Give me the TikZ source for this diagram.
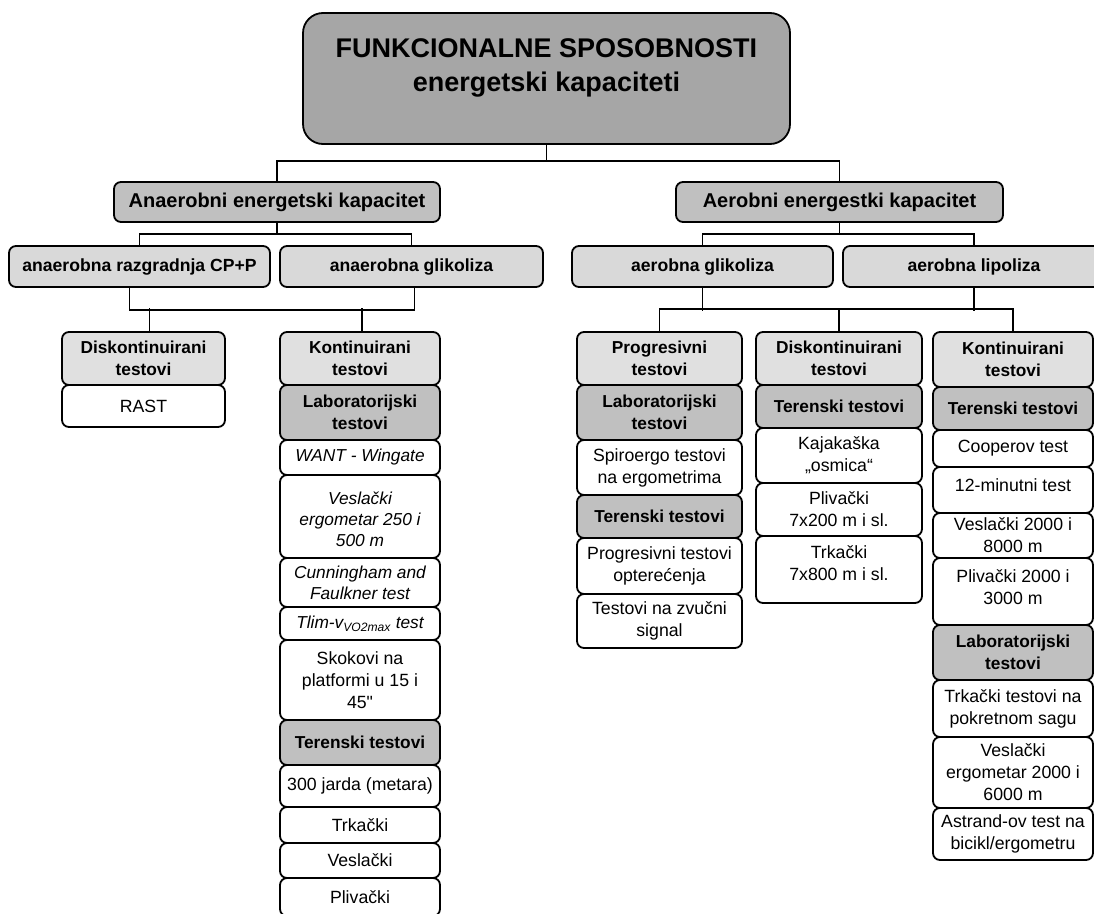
\documentclass[tikz,border=0pt]{standalone}
\usepackage{fontspec}
\setmainfont{Liberation Sans}
\definecolor{topgray}{RGB}{166,166,166}
\definecolor{midgray}{RGB}{192,192,192}
\definecolor{subgray}{RGB}{217,217,217}
\definecolor{headgray}{RGB}{224,224,224}

\begin{document}
\begin{tikzpicture}[x=1pt, y=-1pt,
		box/.style={draw, line width=1.8pt, rounded corners=7pt, inner sep=0pt, align=center},
		topbox/.style={box, fill=topgray, rounded corners=20pt, font=\bfseries\fontsize{27}{34}\selectfont},
		capbox/.style={box, fill=midgray, font=\bfseries\fontsize{20}{24}\selectfont},
		subbox/.style={box, fill=subgray, font=\bfseries\fontsize{17.6}{22}\selectfont},
		headbox/.style={box, fill=headgray, font=\bfseries\fontsize{17.3}{22}\selectfont},
		kindbox/.style={box, fill=midgray, font=\bfseries\fontsize{17.3}{22}\selectfont},
		testbox/.style={box, fill=white, font=\fontsize{17.7}{22}\selectfont},
		itbox/.style={box, fill=white, font=\itshape\fontsize{17.3}{21}\selectfont},
		link/.style={line width=1.7pt}]
		\useasboundingbox (0,0) rectangle (1094,913);

		\node[topbox, minimum width=487pt, minimum height=131pt] (top) at (546.5, 78.5) {FUNKCIONALNE SPOSOBNOSTI\\energetski kapaciteti\rule[-27pt]{0pt}{0pt}};

		\node[capbox, minimum width=326pt, minimum height=40pt] (anaer) at (277, 202) {Anaerobni energetski kapacitet};
		\node[capbox, minimum width=327pt, minimum height=40pt] (aer) at (839.5, 202) {Aerobni energestki kapacitet};

		\node[subbox, minimum width=261pt, minimum height=41pt] (raz) at (139.5, 266.5) {anaerobna razgradnja CP+P};
		\node[subbox, minimum width=263pt, minimum height=41pt] (anglik) at (411.5, 266.5) {anaerobna glikoliza};
		\node[subbox, minimum width=261pt, minimum height=41pt] (aglik) at (702.5, 266.5) {aerobna glikoliza};
		\node[subbox, minimum width=262pt, minimum height=41pt] (alip) at (974, 266.5) {aerobna lipoliza};

		% anaerobni: diskontinuirani
		\node[headbox, minimum width=163pt, minimum height=53pt] (dkA) at (143.5, 358.5) {Diskontinuirani\\testovi};
		\node[testbox, minimum width=163pt, minimum height=42pt] (rast) at (143.5, 406) {RAST};

		% anaerobni: kontinuirani
		\node[headbox, minimum width=160pt, minimum height=53pt] (kA) at (360, 358.5) {Kontinuirani\\testovi};
		\node[kindbox, minimum width=160pt, minimum height=55pt] (labA) at (360, 412.5) {Laboratorijski\\testovi};
		\node[itbox, minimum width=160pt, minimum height=35pt] (want) at (360, 457.5) {WANT - Wingate};
		\node[itbox, minimum width=160pt, minimum height=83pt] (vesA) at (360, 516.5) {\rule{0pt}{18pt}Veslački\\ergometar 250 i\\500 m};
		\node[itbox, minimum width=160pt, minimum height=49pt] (cunn) at (360, 582.5) {Cunningham and\\Faulkner test};
		\node[itbox, minimum width=160pt, minimum height=33pt] (tlim) at (360, 623.5) {Tlim-v\textsubscript{VO2max} test};
		\node[testbox, minimum width=160pt, minimum height=80pt] (skok) at (360, 680) {Skokovi na\\platformi u 15 i\\45\XeTeXglyph\XeTeXcharglyph34\relax};
		\node[kindbox, minimum width=160pt, minimum height=45pt] (terA) at (360, 742.5) {Terenski testovi};
		\node[testbox, minimum width=160pt, minimum height=42pt] (jard) at (360, 786) {300 jarda (metara)};
		\node[testbox, minimum width=160pt, minimum height=36pt] (trkA) at (360, 825) {Trkački};
		\node[testbox, minimum width=160pt, minimum height=35pt] (vesA2) at (360, 860.5) {Veslački};
		\node[testbox, minimum width=160pt, minimum height=38pt] (pliA) at (360, 897) {Plivački};

		% aerobni: progresivni
		\node[headbox, minimum width=165pt, minimum height=53pt] (prog) at (659.5, 358.5) {Progresivni\\testovi};
		\node[kindbox, minimum width=165pt, minimum height=55pt] (labB) at (659.5, 412.5) {Laboratorijski\\testovi};
		\node[testbox, minimum width=165pt, minimum height=55pt] (spir) at (659.5, 467.5) {Spiroergo testovi\\na ergometrima};
		\node[kindbox, minimum width=165pt, minimum height=43pt] (terB) at (659.5, 516.5) {Terenski testovi};
		\node[testbox, minimum width=165pt, minimum height=56pt] (progt) at (659.5, 566) {Progresivni testovi\\opterećenja};
		\node[testbox, minimum width=165pt, minimum height=54pt] (zvuk) at (659.5, 621) {Testovi na zvučni\\signal};

		% aerobni: diskontinuirani
		\node[headbox, minimum width=166pt, minimum height=53pt] (dkB) at (839, 358.5) {Diskontinuirani\\testovi};
		\node[kindbox, minimum width=166pt, minimum height=43pt] (terC) at (839, 406.5) {Terenski testovi};
		\node[testbox, minimum width=166pt, minimum height=55pt] (kaja) at (839, 455.5) {Kajakaška\\„osmica“};
		\node[testbox, minimum width=166pt, minimum height=53pt] (pliB) at (839, 509.5) {Plivački\\7x200 m i sl.};
		\node[testbox, minimum width=166pt, minimum height=67pt] (trkB) at (839, 569.5) {Trkački\\7x800 m i sl.\rule[-12pt]{0pt}{0pt}};

		% aerobni: kontinuirani
		\node[headbox, minimum width=160pt, minimum height=55pt] (kB) at (1013, 359.5) {Kontinuirani\\testovi};
		\node[kindbox, minimum width=160pt, minimum height=43pt] (terD) at (1013, 408.5) {Terenski testovi};
		\node[testbox, minimum width=160pt, minimum height=37pt] (coop) at (1013, 448.5) {Cooperov test};
		\node[testbox, minimum width=160pt, minimum height=46pt] (min12) at (1013, 490) {12-minutni test\rule[-10pt]{0pt}{0pt}};
		\node[testbox, minimum width=160pt, minimum height=45pt] (vesB) at (1013, 535.5) {Veslački 2000 i\\8000 m};
		\node[testbox, minimum width=160pt, minimum height=67pt] (pliC) at (1013, 591.5) {Plivački 2000 i\\3000 m\rule[-9pt]{0pt}{0pt}};
		\node[kindbox, minimum width=160pt, minimum height=55pt] (labC) at (1013, 652.5) {Laboratorijski\\testovi};
		\node[testbox, minimum width=160pt, minimum height=57pt] (trkC) at (1013, 708.5) {Trkački testovi na\\pokretnom sagu};
		\node[testbox, minimum width=160pt, minimum height=71pt] (vesC) at (1013, 772.5) {Veslački\\ergometar 2000 i\\6000 m};
		\node[testbox, minimum width=160pt, minimum height=52pt] (astr) at (1013, 834) {Astrand-ov test na\\bicikl/ergometru};

		\draw[link] (top.south) -- ++(0,16) -| (anaer.north);
		\draw[link] (top.south) -- ++(0,16) -| (aer.north);
		\draw[link] (anaer.south) -- ++(0,11) -| (raz.north);
		\draw[link] (anaer.south) -- ++(0,11) -| (anglik.north);
		\draw[link] (aer.south) -- ++(0,11) -| (aglik.north);
		\draw[link] (aer.south) -- ++(0,11) -| (alip.north);

		\draw[link] ([xshift=-10pt]raz.south) -- ++(0,22) -| ([xshift=3pt]anglik.south);
		\draw[link] ([xshift=6pt]dkA.north) -- ++(0,-23);
		\draw[link] ([xshift=2pt]kA.north) -- ++(0,-23);

		\draw[link] (aglik.south) -- ++(0,23);
		\draw[link] (alip.south) -- ++(0,23);
		\draw[link] (prog.north) -- ++(0,-22) -| (kB.north);
		\draw[link] (dkB.north) -- ++(0,-22);
	\end{tikzpicture}
\end{document}
